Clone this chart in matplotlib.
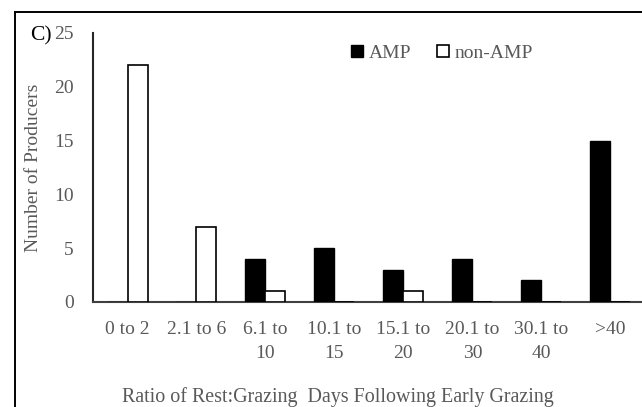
"""
Panel C: number of producers by ratio of rest:grazing days after early grazing.
"""
import numpy as np
import matplotlib
matplotlib.use('Agg')
import matplotlib.pyplot as plt
from matplotlib.lines import Line2D
from matplotlib.patches import Patch

GREY = '#595959'

plt.rcParams.update({
    'font.family': 'serif',
    'font.serif': ['Liberation Serif', 'DejaVu Serif'],
    'font.size': 14,
})

# === Data ===
categories = ['0 to 2', '2.1 to 6', '6.1 to\n10', '10.1 to\n15', '15.1 to\n20',
              '20.1 to\n30', '30.1 to\n40', '>40']
amp = [0, 0, 4, 5, 3, 4, 2, 15]
non_amp = [22, 7, 1, 0, 1, 0, 0, 0]

fig = plt.figure(figsize=(6.42, 4.07), dpi=100, facecolor='white')
ax = fig.add_axes([0.1449, 0.258, 0.8551, 0.661])

x = np.arange(len(categories))
w = 0.29

ax.bar(x - w/2, amp, w, color='black', edgecolor='black', linewidth=1, zorder=3)
ax.bar(x + w/2, non_amp, w, color='white', edgecolor='black', linewidth=1.2, zorder=3)

ax.set_xlim(-0.5, 7.46)
ax.set_ylim(0, 25)
ax.set_yticks([0, 5, 10, 15, 20, 25])
ax.set_xticks(x)
ax.set_xticklabels(categories, color=GREY, linespacing=1.55)
ax.tick_params(axis='y', length=0, pad=13.8, colors=GREY, labelsize=14)
ax.tick_params(axis='x', length=0, pad=13.6, colors=GREY, labelsize=14)

ax.spines['top'].set_visible(False)
ax.spines['right'].set_visible(False)
ax.spines['left'].set_color('#262626')
ax.spines['left'].set_linewidth(1.5)
ax.spines['bottom'].set_color('#404040')
ax.spines['bottom'].set_linewidth(1.5)

ax.set_ylabel('Number of Producers', color=GREY, fontsize=14)
ax.yaxis.set_label_coords(-0.093, 0.5)
fig.text(0.527, 0.0246, 'Ratio of Rest:Grazing  Days Following Early Grazing',
         ha='center', va='center', color=GREY, fontsize=14.4)

# panel letter
fig.text(0.047, 0.912, 'C)', ha='left', va='center', color='black', fontsize=15.5)

# legend
handles = [Patch(facecolor='black', edgecolor='black', label='AMP'),
           Patch(facecolor='white', edgecolor='black', linewidth=1.2, label='non-AMP')]
ax.legend(handles=handles, loc='center', bbox_to_anchor=(0.636, 0.925),
          ncol=2, frameon=False, fontsize=14, handlelength=0.6, handleheight=0.6,
          handletextpad=0.3, columnspacing=1.35, labelcolor=GREY)

# figure border (cropped at right and bottom)
fig.add_artist(Line2D([15/642, 15/642], [0, 1 - 12/407], transform=fig.transFigure,
                      color='black', linewidth=1.4))
fig.add_artist(Line2D([15/642, 1], [1 - 12/407, 1 - 12/407], transform=fig.transFigure,
                      color='black', linewidth=1.4))

fig.savefig('out.png', dpi=100, facecolor='white')
plt.close()
